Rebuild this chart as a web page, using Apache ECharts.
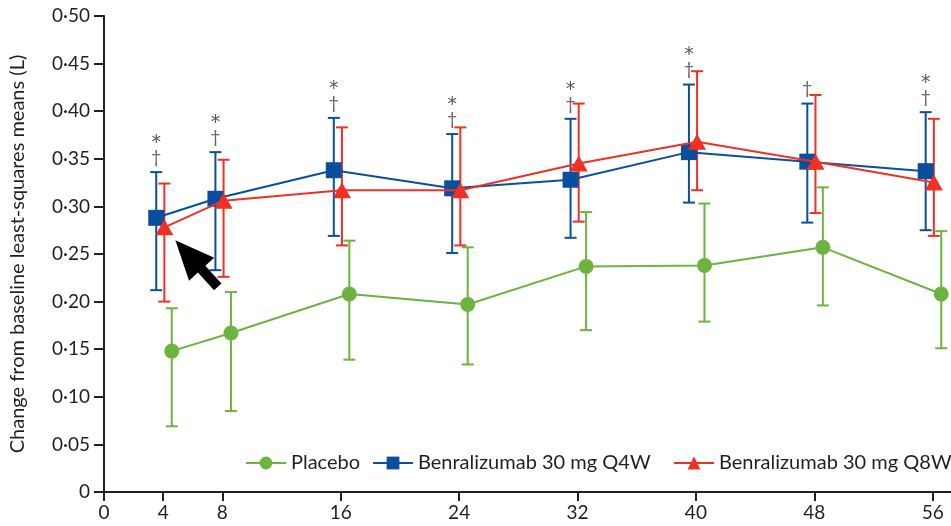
<!DOCTYPE html>
<html>
<head>
<meta charset="utf-8">
<script src="https://cdn.jsdelivr.net/npm/echarts@6/dist/echarts.min.js"></script>
<style>
  html, body { margin: 0; padding: 0; background: #fff; }
  #chart { width: 951px; height: 526px; }
</style>
</head>
<body>
<div id="chart"></div>
<script>
// Visit weeks and FEV1 change from baseline (L), least-squares means with 95% CI
const weeks = [4, 8, 16, 24, 32, 40, 48, 56];
const xTicks = [0, 4, 8, 16, 24, 32, 40, 48, 56];
const yTicks = [0, 0.05, 0.10, 0.15, 0.20, 0.25, 0.30, 0.35, 0.40, 0.45, 0.50];

const placeboMean = [0.148, 0.167, 0.208, 0.197, 0.237, 0.238, 0.257, 0.208];
const placeboLow  = [0.069, 0.085, 0.139, 0.134, 0.170, 0.179, 0.196, 0.151];
const placeboHigh = [0.193, 0.210, 0.264, 0.257, 0.294, 0.303, 0.320, 0.274];

const q4wMean = [0.288, 0.308, 0.338, 0.319, 0.328, 0.357, 0.347, 0.337];
const q4wLow  = [0.212, 0.233, 0.269, 0.251, 0.267, 0.304, 0.283, 0.275];
const q4wHigh = [0.336, 0.357, 0.393, 0.376, 0.392, 0.428, 0.408, 0.399];

const q8wMean = [0.278, 0.306, 0.317, 0.317, 0.345, 0.368, 0.347, 0.325];
const q8wLow  = [0.200, 0.226, 0.259, 0.259, 0.284, 0.317, 0.293, 0.269];
const q8wHigh = [0.324, 0.349, 0.383, 0.383, 0.408, 0.442, 0.417, 0.392];

// Significance markers above each visit (* vs placebo for Q4W, † vs placebo for Q8W)
const starMarks   = [true, true, true, true, true, true, false, true];
const daggerMarks = [true, true, true, true, true, true, true, true];

const names = ['Placebo', 'Benralizumab 30 mg Q4W', 'Benralizumab 30 mg Q8W'];

const GREEN = '#6db33f';
const BLUE = '#0a4f9e';
const RED = '#ee3124';
const INK = '#231f20';
const FONT = 'Lato, "Liberation Sans", sans-serif';

// horizontal dodge (weeks) so the three groups don't overlap
const dodge = { placebo: 0.58, q4w: -0.47, q8w: 0.08 };

function points(mean, dx) {
  return weeks.map((w, i) => [w + dx, mean[i]]);
}
function bars(low, high, dx) {
  return weeks.map((w, i) => [w + dx, low[i], high[i], i]);
}

function errorRenderer(color, withMarks) {
  return function (params, api) {
    const x = api.value(0);
    const lo = api.coord([x, api.value(1)]);
    const hi = api.coord([x, api.value(2)]);
    const cap = 6;
    const st = { stroke: color, lineWidth: 2 };
    const children = [
      { type: 'line', shape: { x1: lo[0], y1: lo[1], x2: hi[0], y2: hi[1] }, style: st },
      { type: 'line', shape: { x1: lo[0] - cap, y1: lo[1], x2: lo[0] + cap, y2: lo[1] }, style: st },
      { type: 'line', shape: { x1: hi[0] - cap, y1: hi[1], x2: hi[0] + cap, y2: hi[1] }, style: st }
    ];
    if (withMarks) {
      const idx = api.value(3);
      if (daggerMarks[idx]) {
        children.push({
          type: 'text', x: hi[0], y: hi[1] - 15,
          style: { text: '†', fill: '#666', font: '18px ' + FONT, align: 'center', verticalAlign: 'middle' }
        });
      }
      if (starMarks[idx]) {
        children.push({
          type: 'text', x: hi[0], y: hi[1] - 29,
          style: { text: '*', fill: '#555', font: '19px "DejaVu Sans", sans-serif', align: 'center', verticalAlign: 'middle' }
        });
      }
    }
    return { type: 'group', children };
  };
}

const chart = echarts.init(document.getElementById('chart'), null, { renderer: 'canvas' });

const legendBase = {
  top: 453,
  padding: 0,
  itemWidth: 40,
  itemHeight: 16,
  itemGap: 0,
  textStyle: { fontFamily: FONT, fontSize: 20, color: INK },
  inactiveColor: '#ccc'
};

const option = {
  animation: false,
  backgroundColor: '#fff',
  grid: { left: 101, right: 0, top: 16, bottom: 34, containLabel: false },
  legend: [
    Object.assign({}, legendBase, { left: 245, data: [names[0]] }),
    Object.assign({}, legendBase, { left: 372, data: [names[1]] }),
    Object.assign({}, legendBase, { left: 673, data: [names[2]] })
  ],
  xAxis: {
    type: 'value',
    min: 0,
    max: 57.24,
    axisLine: { show: true, onZero: false, lineStyle: { color: INK, width: 2 } },
    axisTick: { show: true, length: 9, customValues: xTicks, lineStyle: { color: INK, width: 2 } },
    axisLabel: {
      customValues: xTicks, margin: 11,
      fontFamily: FONT, fontSize: 19, color: INK
    },
    splitLine: { show: false }
  },
  yAxis: {
    type: 'value',
    min: 0,
    max: 0.5,
    name: 'Change from baseline least-squares means (L)',
    nameLocation: 'middle',
    nameGap: 76,
    nameTextStyle: { fontFamily: FONT, fontSize: 20, color: INK },
    axisLine: { show: true, onZero: false, lineStyle: { color: INK, width: 2 } },
    axisTick: { show: true, length: 10, customValues: yTicks, lineStyle: { color: INK, width: 2 } },
    axisLabel: {
      customValues: yTicks, margin: 14,
      fontFamily: FONT, fontSize: 19, color: INK,
      formatter: v => (v === 0 ? '0' : v.toFixed(2).replace('.', '·'))
    },
    splitLine: { show: false }
  },
  series: [
    {
      type: 'custom', id: 'placebo-ci', z: 2,
      renderItem: errorRenderer(GREEN, false),
      data: bars(placeboLow, placeboHigh, dodge.placebo),
      encode: { x: 0, y: [1, 2] }
    },
    {
      type: 'custom', id: 'q4w-ci', z: 3,
      renderItem: errorRenderer(BLUE, true),
      data: bars(q4wLow, q4wHigh, dodge.q4w),
      encode: { x: 0, y: [1, 2] }
    },
    {
      type: 'custom', id: 'q8w-ci', z: 4,
      renderItem: errorRenderer(RED, false),
      data: bars(q8wLow, q8wHigh, dodge.q8w),
      encode: { x: 0, y: [1, 2] }
    },
    {
      type: 'line', name: names[0], z: 5,
      data: points(placeboMean, dodge.placebo),
      symbol: 'circle', symbolSize: 15,
      lineStyle: { color: GREEN, width: 2 },
      itemStyle: { color: GREEN }
    },
    {
      type: 'line', name: names[1], z: 6,
      data: points(q4wMean, dodge.q4w),
      symbol: 'rect', symbolSize: 16,
      lineStyle: { color: BLUE, width: 2 },
      itemStyle: { color: BLUE }
    },
    {
      type: 'line', name: names[2], z: 7,
      data: points(q8wMean, dodge.q8w),
      symbol: 'triangle', symbolSize: [18, 16],
      lineStyle: { color: RED, width: 2 },
      itemStyle: { color: RED }
    }
  ]
};

chart.setOption(option);

// Pointer arrow toward the first Q8W visit
const anchor = chart.convertToPixel({ gridIndex: 0 }, [weeks[0] + dodge.q8w, q8wMean[0]]);
const tip = [anchor[0] + 11, anchor[1] + 13];
const ang = Math.atan2(46.7, 42.5);
const ux = Math.cos(ang), uy = Math.sin(ang);      // tip -> tail direction
const px = -uy, py = ux;                            // perpendicular
const headLen = 39, headHalf = 17, shaftHalf = 5, total = 63;
function at(d, w) { return [tip[0] + ux * d + px * w, tip[1] + uy * d + py * w]; }
chart.setOption({
  graphic: [{
    type: 'polygon',
    z: 100,
    shape: {
      points: [
        tip,
        at(headLen, headHalf),
        at(headLen, shaftHalf),
        at(total, shaftHalf),
        at(total, -shaftHalf),
        at(headLen, -shaftHalf),
        at(headLen, -headHalf)
      ]
    },
    style: { fill: '#000' }
  }]
});
</script>
</body>
</html>
